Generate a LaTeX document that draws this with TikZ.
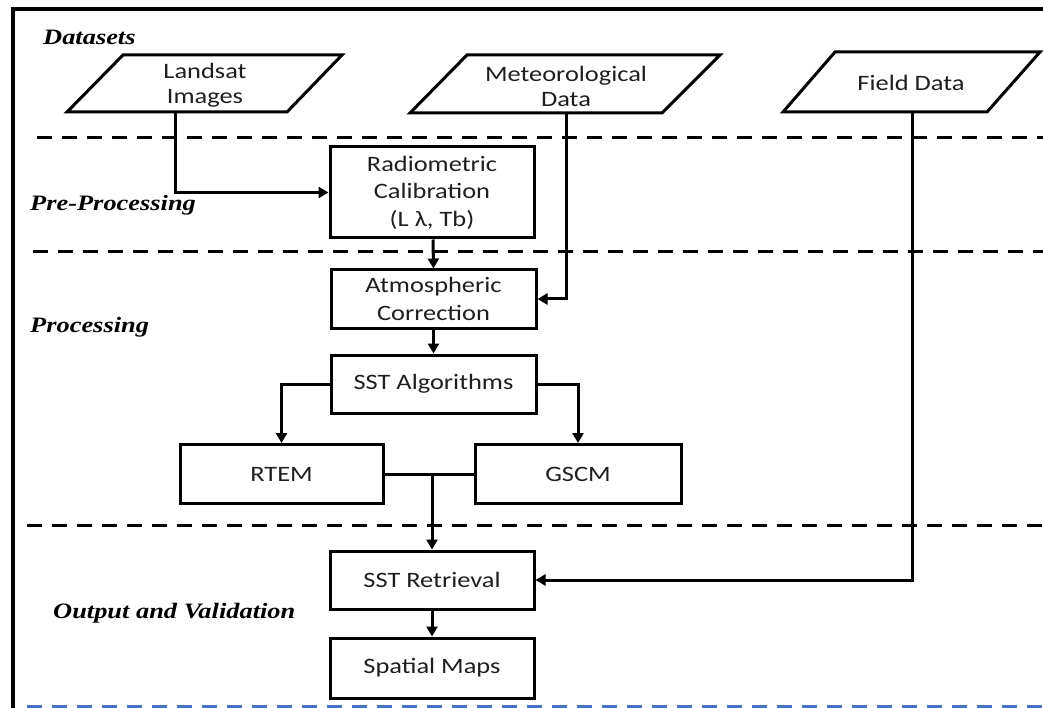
\documentclass[tikz,border=0pt]{standalone}
\usepackage{fontspec}
\setmainfont[FakeStretch=1.2]{Carlito}
\newfontfamily\labfont[FakeStretch=1.2]{Liberation Serif}
\usetikzlibrary{arrows.meta}
\definecolor{laneblue}{RGB}{68,114,196}
\begin{document}
\begin{tikzpicture}[x=1pt,y=-1pt,
  boxnode/.style={draw, line width=3pt, inner sep=0pt, align=center,
    font=\fontsize{22}{27.5}\selectfont, text=black!88},
  ptext/.style={inner sep=0pt, align=center, font=\fontsize{22}{25}\selectfont, text=black!88},
  para/.style={line width=3pt, line join=miter},
  lane/.style={line width=3pt, dash pattern=on 15pt off 10pt},
  conn/.style={line width=3pt, -{Triangle[length=10pt,width=11pt]}},
  plain/.style={line width=3pt},
  lab/.style={font=\labfont\bfseries\itshape\fontsize{22}{26}\selectfont, anchor=west, inner sep=0pt}]
\useasboundingbox (0,0) rectangle (1043,708);
\fill[white] (0,0) rectangle (1043,708);

% frame
\draw[line width=4.5pt] (13,710) -- (13,9) -- (1045,9);

% lanes
\draw[lane] (37,138) -- (1043,138);
\draw[lane] (33,252) -- (1043,252);
\draw[lane] (27,525) -- (1043,525);
\draw[lane, laneblue] (27,706) -- (1043,706);

% section labels
\node[lab] (lds) at (43,37) {Datasets};
\node[lab] (lpre) at (30,205) {Pre-Processing};
\node[lab] (lpro) at (30,327) {Processing};
\node[lab] (lout) at (53,613) {Output and Validation};

% data parallelograms
\draw[para] (67,112) -- (123,55) -- (342,55) -- (287,112) -- cycle;
\node[ptext] (landsat) at (205,85) {Landsat\\Images};
\draw[para] (410,113) -- (467,55) -- (720,55) -- (662,113) -- cycle;
\node[ptext] (met) at (566,86) {Meteorological\\Data};
\draw[para] (783,112) -- (835,52) -- (1040,52) -- (987,112) -- cycle;
\node[ptext] (field) at (911,83) {Field Data};
\coordinate (landsatb) at (175,112);
\coordinate (metb) at (566,113);
\coordinate (fieldb) at (912,112);

% process boxes
\node[boxnode, minimum width=204pt, minimum height=91pt] (radio) at (432,192.5)
  {Radiometric\\Calibration\\(L λ, Tb)};
\node[boxnode, minimum width=205pt, minimum height=58pt] (atm) at (433.5,299)
  {Atmospheric\\Correction};
\node[boxnode, minimum width=205pt, minimum height=58pt] (alg) at (433.5,384)
  {SST Algorithms};
\node[boxnode, minimum width=203pt, minimum height=59pt] (rtem) at (281.5,474)
  {RTEM};
\node[boxnode, minimum width=206pt, minimum height=59pt] (gscm) at (578,474)
  {GSCM};
\node[boxnode, minimum width=204pt, minimum height=58pt] (retr) at (432,580)
  {SST Retrieval};
\node[boxnode, minimum width=204pt, minimum height=60pt] (maps) at (432,668)
  {Spatial Maps};

% connectors
\draw[conn] (landsatb) |- (radio.west);
\draw[conn] (metb) |- (atm.east);
\draw[conn] (radio.south -| 433,0) -- (atm.north);
\draw[conn] (atm.south) -- (alg.north);
\draw[conn] (alg.west) -| (rtem.north);
\draw[conn] (alg.east) -| (gscm.north);
\draw[plain] (rtem.east) -- (gscm.west);
\coordinate (join) at (rtem.east -| retr.north);
\draw[conn] (join) -- (retr.north);
\draw[conn] (fieldb) |- (retr.east);
\draw[conn] (retr.south) -- (maps.north);
\end{tikzpicture}
\end{document}
